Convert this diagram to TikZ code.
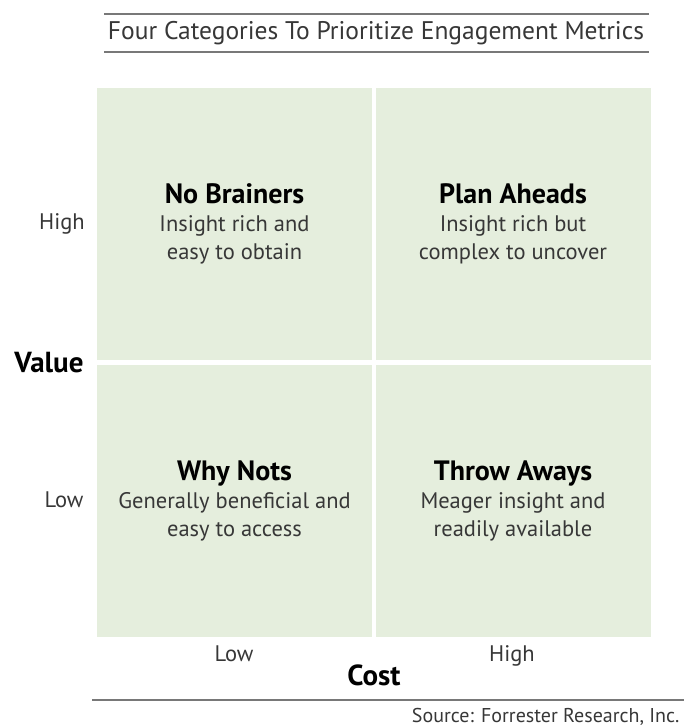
\documentclass[tikz,border=0pt]{standalone}
\usepackage{fontspec}
\setmainfont{PT Sans}
\usepackage{tikz}
\usetikzlibrary{positioning}
\definecolor{QuadGreen}{RGB}{229,238,221}
\definecolor{RuleGrey}{RGB}{120,120,120}
\definecolor{TextGrey}{RGB}{55,55,55}

\begin{document}
\begin{tikzpicture}[
    x=1pt, y=-1pt,
    quad/.style={
        fill=QuadGreen,
        minimum width=275pt,
        minimum height=272pt,
        align=center,
        inner sep=0pt,
        text=TextGrey,
        font=\fontsize{22.5}{28}\selectfont
    },
    tick/.style={
        text=TextGrey,
        font=\fontsize{22.5}{26}\selectfont
    },
    axis/.style={
        font=\bfseries\fontsize{29}{32}\selectfont
    },
    rule/.style={
        draw=RuleGrey,
        line width=2.5pt
    }
]
\useasboundingbox (0,0) rectangle (684,728);

% Heading between two rules
\coordinate (t1) at (104,14);
\coordinate (t2) at (649,14);
\coordinate (b1) at (104,52);
\coordinate (b2) at (649,52);
\draw[rule] (t1) -- (t2);
\draw[rule] (b1) -- (b2);
\node[text=TextGrey, font=\fontsize{25.5}{28}\selectfont] (title) at (376,33) {Four Categories To Prioritize Engagement Metrics};

% Four quadrants
\newcommand{\quadhead}[1]{{\bfseries\color{black}\fontsize{28}{31}\selectfont #1}}
\node[quad] (nw) at (234.5,224) {\quadhead{No Brainers}\\Insight rich and\\easy to obtain};
\node[quad] (ne) at (513,224)   {\quadhead{Plan Aheads}\\Insight rich but\\complex to uncover};
\node[quad] (sw) at (234.5,500.5) {\quadhead{Why Nots}\\Generally beneficial and\\easy to access};
\node[quad] (se) at (513,500.5)   {\quadhead{Throw Aways}\\Meager insight and\\readily available};

% Value axis
\node[tick] (vhigh) at (62,224) {High};
\node[tick] (vlow)  at (64,500) {Low};
\node[axis] (value) at (49,363) {Value};

% Cost axis
\node[tick] (clow)  at (234,654) {Low};
\node[tick] (chigh) at (512,656) {High};
\node[axis] (cost)  at (374,675) {Cost};

% Source line
\coordinate (s1) at (92,700);
\coordinate (s2) at (684,700);
\draw[rule] (s1) -- (s2);
\node[tick, anchor=east, font=\fontsize{20}{22}\selectfont] (source) at (683,717) {Source: Forrester Research, Inc.};

\end{tikzpicture}
\end{document}
